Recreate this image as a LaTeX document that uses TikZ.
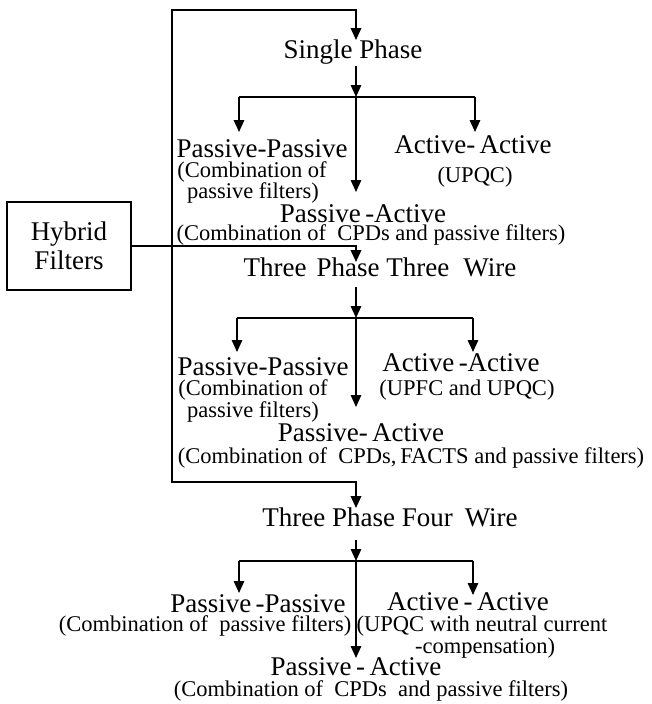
\documentclass[tikz,border=0pt]{standalone}
\usepackage{fontspec}
\setmainfont{Liberation Serif}
\usetikzlibrary{arrows.meta}
\begin{document}
\begin{tikzpicture}[x=1pt,y=-1pt,
  big/.style={anchor=base,inner sep=0pt,font=\fontsize{27}{29}\selectfont},
  small/.style={anchor=base,inner sep=0pt,font=\fontsize{22.5}{24}\selectfont},
  tip/.style={-{Triangle[length=12pt,width=10.5pt]}},
  thin/.style={line width=1.4pt},
  thick/.style={line width=2pt}]
\useasboundingbox (0,0) rectangle (652,704);

% ---------- box ----------
\node[draw,thick,minimum width=124pt,minimum height=88pt,inner sep=0pt,align=center,
      font=\fontsize{27}{29}\selectfont] (hyb) at (69,246) {Hybrid\\Filters};

% ---------- Single phase ----------
\node[big] (sp) at (353,58) {Single\ Phase};
\node[big] (pp1) at (262,157) {Passive-Passive};
\node[small] (pp1a) at (252,177) {(Combination of};
\node[small] (pp1b) at (253,198) {passive filters)};
\node[big] (aa1) at (473,153) {Active-\,Active};
\node[small] (aa1a) at (475,182) {(UPQC)};
\node[big] (pa1) at (363,222) {Passive\,-Active};
\node[small] (pa1a) at (371,240) {(Combination of\ \ CPDs and passive filters)};

% ---------- Three phase three wire ----------
\node[big] (tw) at (380,276) {Three\hspace{10pt}Phase Three\hspace{14pt}Wire};
\node[big] (pp2) at (263,375) {Passive-Passive};
\node[small] (pp2a) at (253,395) {(Combination of};
\node[small] (pp2b) at (253,417) {passive filters)};
\node[big] (aa2) at (461,371) {Active\,-Active};
\node[small] (aa2a) at (467,395) {(UPFC and UPQC)};
\node[big] (pa2) at (361,441) {Passive-\,Active};
\node[small] (pa2a) at (411,463) {(Combination of\ \ CPDs,\,FACTS and passive filters)};

% ---------- Three phase four wire ----------
\node[big] (fw) at (390,526) {Three Phase Four\hspace{12pt}Wire};
\node[big] (pp3) at (258,612) {Passive\,-Passive};
\node[small] (pp3a) at (205,631) {(Combination of\ \ passive filters)};
\node[big] (aa3) at (468,610) {Active\,-\,Active};
\node[small] (aa3a) at (482,631) {(UPQC with neutral current};
\node[small] (aa3b) at (485,653) {-compensation)};
\node[big] (pa3) at (356,675) {Passive\,-\,Active};
\node[small] (pa3a) at (371,696) {(Combination of\ \ CPDs\ \ and passive filters)};

% ---------- coordinates ----------
\coordinate (spin) at (356,40);
\coordinate (tl) at (172,10);
\coordinate (bl) at (172,482);
\coordinate (fwin) at (356,508);
\coordinate (twin) at (356,262);

\coordinate (s1) at (356,66);   \coordinate (j1) at (356,97);
\coordinate (l1) at (239,97);   \coordinate (r1) at (475,97);
\coordinate (l1t) at (239,132); \coordinate (r1t) at (475,132); \coordinate (c1t) at (356,192);

\coordinate (s2) at (356,287);  \coordinate (j2) at (356,318);
\coordinate (l2) at (237,318);  \coordinate (r2) at (473,318);
\coordinate (l2t) at (237,352); \coordinate (r2t) at (473,352); \coordinate (c2t) at (356,407);

\coordinate (s3) at (356,540);  \coordinate (j3) at (356,561);
\coordinate (l3) at (239,561);  \coordinate (r3) at (473,561);
\coordinate (l3t) at (239,593); \coordinate (r3t) at (473,595); \coordinate (c3t) at (356,658);

% ---------- main feed lines ----------
\draw[thick,{Triangle[length=12pt,width=10.5pt]}-{Triangle[length=12pt,width=10.5pt]}]
  (spin) -- (tl -| spin) -- (tl) -- (bl) -- (bl -| fwin) -- (fwin);
\draw[thick,tip] (hyb.east) -| (twin);

% ---------- trees ----------
\draw[thin,tip] (s1) -- (j1);
\draw[thin] (l1) -- (r1);
\draw[thin,tip] (l1) -- (l1t);
\draw[thin,tip] (r1) -- (r1t);
\draw[thin,tip] (j1) -- (c1t);

\draw[thin,tip] (s2) -- (j2);
\draw[thin] (l2) -- (r2);
\draw[thin,tip] (l2) -- (l2t);
\draw[thin,tip] (r2) -- (r2t);
\draw[thin,tip] (j2) -- (c2t);

\draw[thin,tip] (s3) -- (j3);
\draw[thin] (l3) -- (r3);
\draw[thin,tip] (l3) -- (l3t);
\draw[thin,tip] (r3) -- (r3t);
\draw[thin,tip] (j3) -- (c3t);
\end{tikzpicture}
\end{document}
